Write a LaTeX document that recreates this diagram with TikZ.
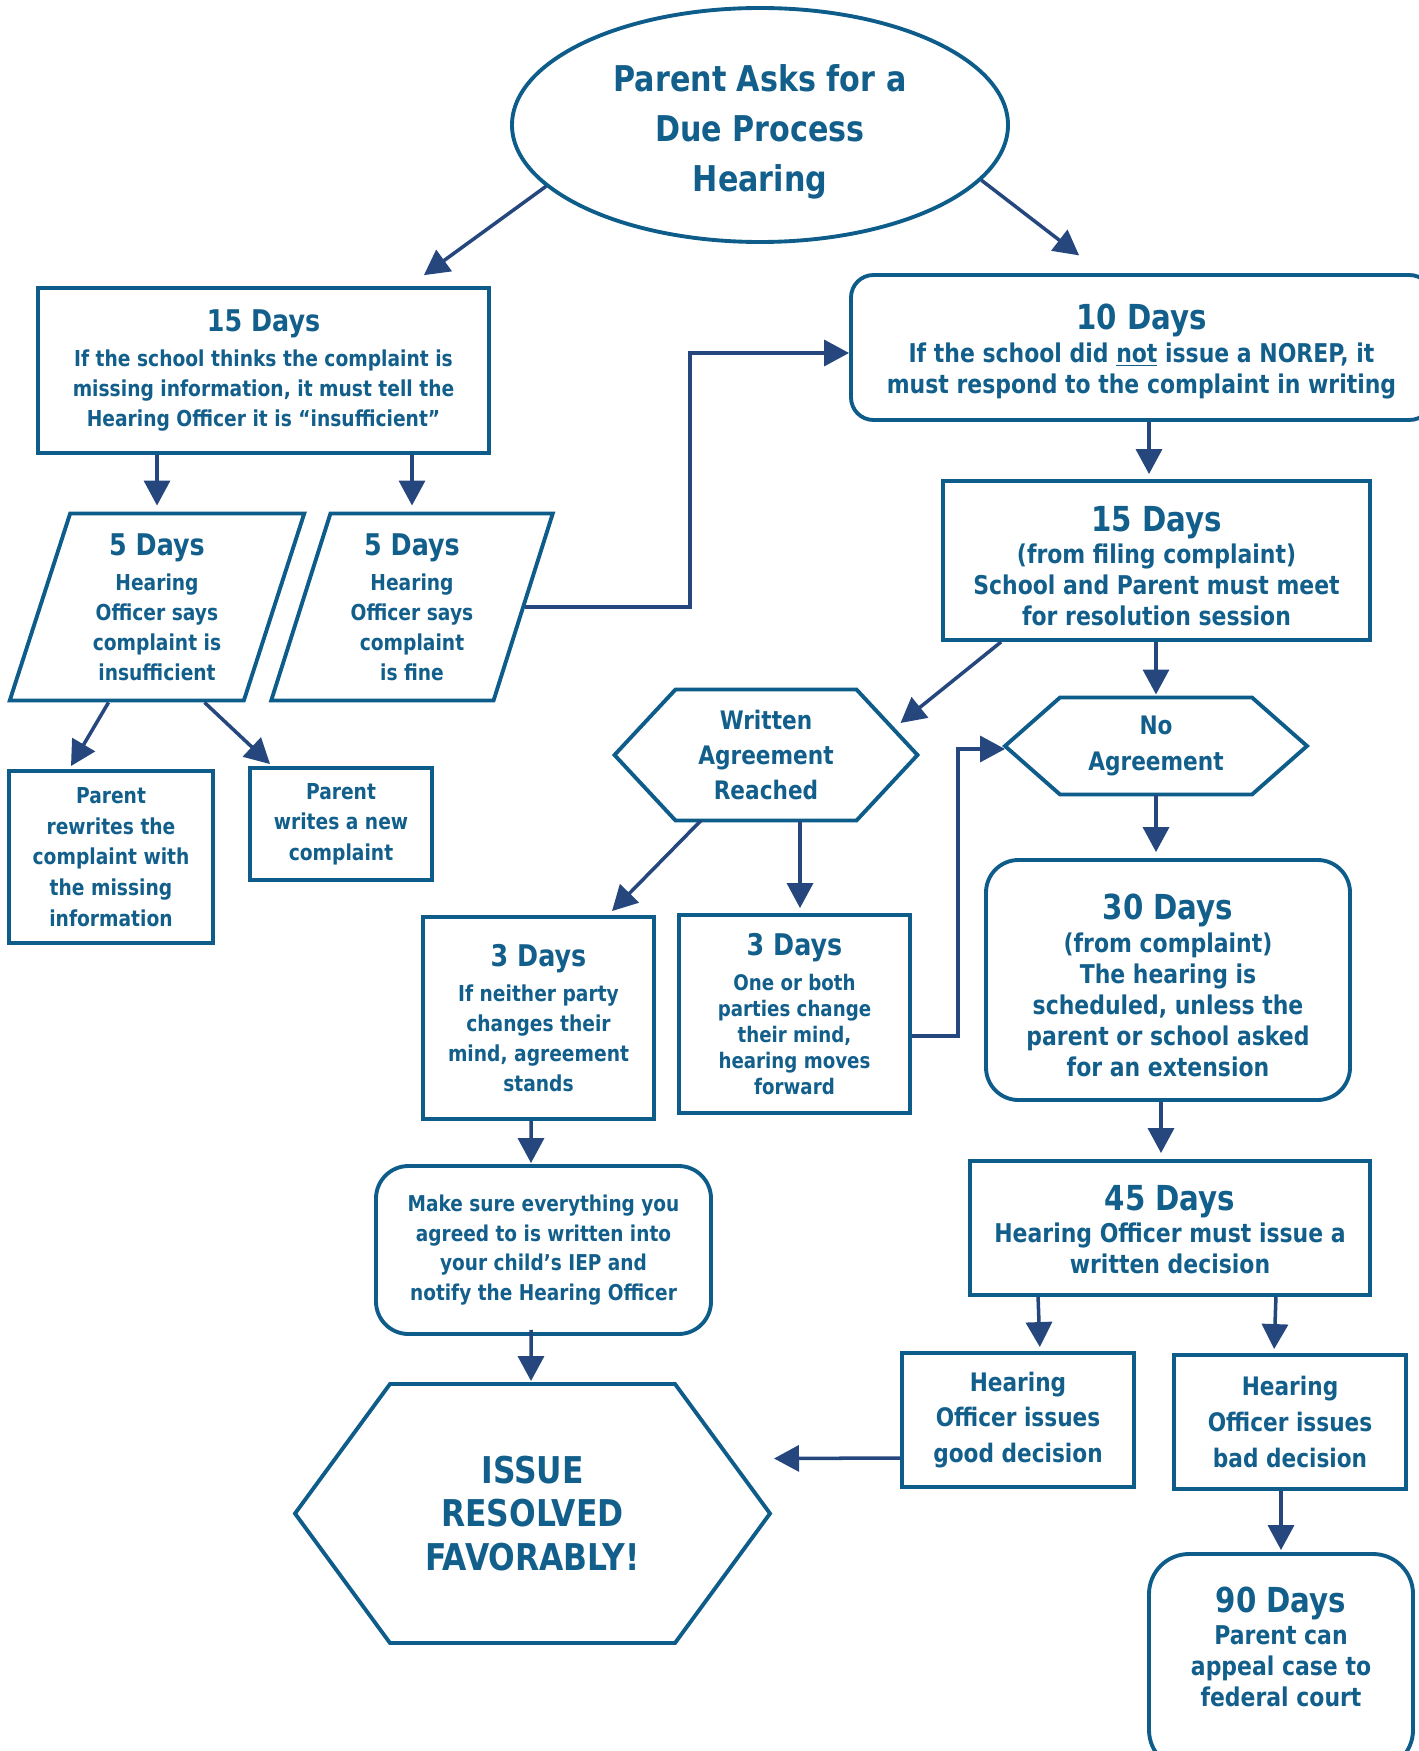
\documentclass[tikz,border=0pt]{standalone}
\usepackage{fontspec}
\setmainfont{DejaVu Sans}[FakeStretch=0.85]
\usetikzlibrary{arrows.meta,positioning,calc,shapes.geometric}
\definecolor{edge}{HTML}{0D5C89}
\definecolor{ink}{HTML}{135F8B}
\definecolor{navy}{HTML}{25477D}
\newcommand{\hd}[1]{{\fontsize{17}{20}\selectfont #1}}
\newcommand{\hdl}[1]{{\fontsize{19.6}{23}\selectfont #1}}
\newcommand{\fsa}{\bfseries\fontsize{12.5}{17}\selectfont}
\newcommand{\fsb}{\bfseries\fontsize{14.7}{17.6}\selectfont}
\newcommand{\up}[1]{\rule{0pt}{#1}}
\newcommand{\dn}[1]{\rule[-#1]{0pt}{0pt}}
% hexagon outline round a plain node, #2 = width of the pointed ends
\newcommand{\hexframe}[2]{\draw[hexline] (#1.west) -- ($(#1.north west)+(#2,0)$)
  -- ($(#1.north east)+(-#2,0)$) -- (#1.east) -- ($(#1.south east)+(-#2,0)$)
  -- ($(#1.south west)+(#2,0)$) -- cycle;}
\tikzset{
  sqbox/.style={draw=edge, line width=2.2pt, fill=white, align=center,
                text=ink, inner sep=2pt},
  rndbox/.style={sqbox, rounded corners=0.65cm},
  slantbox/.style={sqbox, trapezium, trapezium left angle=73,
                   trapezium right angle=107, trapezium stretches=true},
  hexbox/.style={align=center, text=ink, inner sep=2pt, outer sep=0pt},
  hexline/.style={draw=edge, line width=2.2pt, line join=miter},
  ellbox/.style={sqbox, ellipse, inner sep=0pt},
  arr/.style={-{Triangle[length=5mm, width=5.2mm]}, line width=2pt, color=navy}}
\begin{document}
\begin{tikzpicture}
    \clip (0,0) rectangle (28.38,-35.02);
    \fill[white] (0,0) rectangle (28.38,-35.02);
    % top
    \node[ellbox, minimum width=9.92cm, minimum height=4.68cm,
          font=\bfseries\fontsize{20.2}{28.4}\selectfont] (ask) at (15.2,-2.5)
      {\up{23pt}Parent Asks for a\\Due Process\\Hearing};
    % left branch
    \node[sqbox, minimum width=9.02cm, minimum height=3.3cm, font=\fsa] (days15a) at (5.27,-7.41)
      {\hd{15 Days}\\[3pt]
       If the school thinks the complaint is\\
       missing information, it must tell the\\
       Hearing Officer it is “insufficient”};
    \node[slantbox, minimum width=5.9cm, minimum height=3.74cm, font=\fsa] (p1) at (3.14,-12.14)
      {\hd{5 Days}\\[3pt] Hearing\\ Officer says\\ complaint is\\ insufficient};
    \node[slantbox, minimum width=5.64cm, minimum height=3.74cm, font=\fsa] (p2) at (8.24,-12.14)
      {\hd{5 Days}\\[3pt] Hearing\\ Officer says\\ complaint\\ is fine};
    \node[sqbox, minimum width=4.08cm, minimum height=3.44cm,
          font=\bfseries\fontsize{12.5}{17.4}\selectfont] (rewrite) at (2.22,-17.14)
      {Parent\\ rewrites the\\ complaint with\\ the missing\\ information};
    \node[sqbox, minimum width=3.64cm, minimum height=2.24cm,
          font=\bfseries\fontsize{12.5}{17.4}\selectfont] (newc) at (6.82,-16.48)
      {Parent\\ writes a new\\ complaint};
    % right branch
    \node[rndbox, rounded corners=0.45cm, minimum width=11.62cm, minimum height=2.9cm,
          font=\fsb] (days10) at (22.83,-6.95)
      {\up{19.4pt}\hdl{10 Days}\\[1pt]
       If the school did \underline{not} issue a NOREP, it\\
       must respond to the complaint in writing};
    \node[sqbox, minimum width=8.54cm, minimum height=3.18cm, font=\fsb] (days15b) at (23.13,-11.21)
      {\up{20.7pt}\hdl{15 Days}\\[1pt] (from filing complaint)\\
       School and Parent must meet\\ for resolution session};
    \node[hexbox, minimum width=6.06cm, minimum height=2.62cm,
          font=\bfseries\fontsize{14.5}{20}\selectfont] (written) at (15.32,-15.1)
      {Written\\ Agreement\\ Reached};
    \node[hexbox, minimum width=6.04cm, minimum height=1.94cm,
          font=\bfseries\fontsize{14.5}{21}\selectfont] (noagree) at (23.12,-14.92)
      {No\\ Agreement};
    \node[rndbox, minimum width=7.28cm, minimum height=4.8cm, font=\fsb] (days30) at (23.36,-19.6)
      {\up{20.7pt}\hdl{30 Days}\\[1pt] (from complaint)\\ The hearing is\\
       scheduled, unless the\\ parent or school asked\\ for an extension};
    \node[sqbox, minimum width=4.62cm, minimum height=4.04cm, font=\fsa] (days3a) at (10.77,-20.36)
      {\hd{3 Days}\\[3pt] If neither party\\ changes their\\ mind, agreement\\ stands};
    \node[sqbox, minimum width=4.62cm, minimum height=3.96cm,
          font=\bfseries\fontsize{12.2}{14.9}\selectfont] (days3b) at (15.89,-20.28)
      {\hd{3 Days}\\[5pt] One or both\\ parties change\\ their mind,\\ hearing moves\\ forward};
    \node[rndbox, minimum width=6.7cm, minimum height=3.36cm,
          font=\bfseries\fontsize{12.4}{17}\selectfont] (sure) at (10.87,-25.0)
      {Make sure everything you\\ agreed to is written into\\
       your child’s IEP and\\ notify the Hearing Officer};
    \node[hexbox, minimum width=9.5cm, minimum height=5.18cm,
          font=\bfseries\fontsize{21}{24.7}\selectfont] (issue) at (10.65,-30.27)
      {ISSUE\\ RESOLVED\\ FAVORABLY!};
    \node[sqbox, minimum width=8.0cm, minimum height=2.68cm, font=\fsb] (days45) at (23.4,-24.56)
      {\up{16pt}\hdl{45 Days}\\[1pt] Hearing Officer must issue a\\ written decision};
    \node[sqbox, minimum width=4.64cm, minimum height=2.68cm,
          font=\bfseries\fontsize{14.5}{20.3}\selectfont] (good) at (20.36,-28.4)
      {Hearing\\ Officer issues\\ good decision};
    \node[sqbox, minimum width=4.64cm, minimum height=2.68cm,
          font=\bfseries\fontsize{14.5}{20.3}\selectfont] (bad) at (25.8,-28.44)
      {Hearing\\ Officer issues\\ bad decision};
    \node[rndbox, rounded corners=0.8cm, minimum width=5.28cm, minimum height=4.32cm,
          font=\fsb] (days90) at (25.62,-33.24)
      {\hdl{90 Days}\\[1pt] Parent can\\ appeal case to\\ federal court\dn{17.6pt}};
    \hexframe{written}{1.22}
    \hexframe{noagree}{1.1}
    \hexframe{issue}{1.9}
    % connectors
    \draw[arr, shorten >=0.37cm] (ask.196) -- ($(days15a.north east)+(-1.64,0)$);
    \draw[arr, shorten >=0.58cm] (ask.-14) -- ($(days10.north west)+(5.06,0)$);
    \draw[arr, shorten >=0.12cm] (days15a.south -| p1.north) -- (p1.north);
    \draw[arr, shorten >=0.12cm] (days15a.south -| p2.north) -- (p2.north);
    \draw[arr] (p2.east) -- ++(3.3,0) |- ($(days10.west)+(0,-0.11)$);
    \draw[arr] ($(p1.south)+(-0.97,0)$) -- ($(rewrite.north)+(-0.8,0.06)$);
    \draw[arr] ($(p1.south)+(0.95,0)$) -- ($(newc.north)+(-1.42,0.04)$);
    \draw[arr, shorten >=0.1cm] ($(days10.south -| days15b.north)+(-0.15,0)$) -- ($(days15b.north)+(-0.15,0)$);
    \draw[arr] ($(days15b.south west)+(1.2,0)$) -- ($(written.east)+(-0.34,0.64)$);
    \draw[arr, shorten >=0.06cm] (days15b.south -| noagree.north) -- (noagree.north);
    \draw[arr, shorten >=0.12cm] (noagree.south) -- (noagree.south |- days30.north);
    \draw[arr] ($(written.south)+(-1.3,0)$) -- ($(days3a.north)+(1.47,0.08)$);
    \draw[arr, shorten >=0.1cm] ($(written.south)+(0.68,0)$) -- ($(days3b.north)+(0.11,0)$);
    \draw[arr] ($(days3b.east)+(0,-0.44)$) -- ++(0.92,0) |- ($(noagree.west)+(0,-0.06)$);
    \draw[arr, shorten >=0.02cm] ($(days3a.south)+(-0.15,0)$) -- ($(sure.north)+(-0.25,0)$);
    \draw[arr, shorten >=0.06cm] ($(sure.south)+(-0.25,0.12)$) -- ($(issue.north)+(-0.03,0)$);
    \draw[arr, shorten >=0.12cm] ($(days30.south)+(-0.14,0)$) -- ($(days30.south |- days45.north)+(-0.14,0)$);
    \draw[arr, shorten >=0.08cm] ($(days45.south west)+(1.4,0)$) -- ($(good.north)+(0.44,0)$);
    \draw[arr, shorten >=0.08cm] ($(days45.south east)+(-1.92,0)$) -- ($(bad.north)+(-0.32,0)$);
    \draw[arr] ($(good.west)+(0,-0.76)$) -- ($(issue.east)+(0.08,1.1)$);
    \draw[arr, shorten >=0.04cm] (bad.south -| days90.north) -- (days90.north);
\end{tikzpicture}
\end{document}
